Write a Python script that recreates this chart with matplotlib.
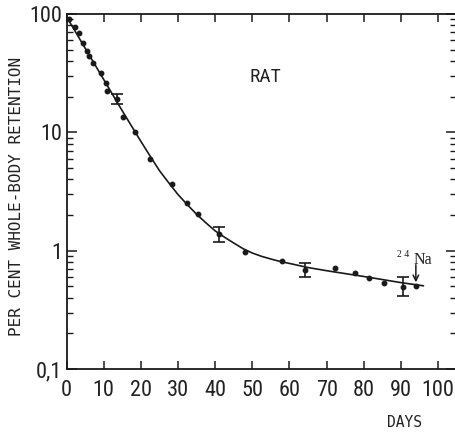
import numpy as np
import matplotlib
matplotlib.use("Agg")
import matplotlib.pyplot as plt
from matplotlib.ticker import FixedLocator, LogLocator, NullFormatter

# measured points (days, % retention)
pts_x = [0.6, 2.2, 3.4, 4.4, 5.4, 6.1, 7.1, 9.2, 10.5, 11.0, 15.3, 18.4,
         22.5, 28.3, 32.4, 35.3, 48.0, 57.9, 72.3, 77.5, 81.4, 85.3, 94.0]
pts_y = [90, 78, 69, 57, 49, 44, 38.6, 31.8, 26, 22.5, 13.5, 10.1,
         6.0, 3.63, 2.51, 2.04, 0.97, 0.81, 0.72, 0.645, 0.585, 0.537, 0.506]

# points with error bars
eb_x = [13.6, 41.1, 64.2, 90.5]
eb_y = [19.2, 1.38, 0.69, 0.49]
eb_lo = [17.3, 1.19, 0.60, 0.415]
eb_hi = [21.2, 1.59, 0.78, 0.596]

# fitted curve
curve_x = [0, 5, 10, 15, 17.5, 20, 22.5, 25, 27.5, 30, 32.5, 35, 37.5, 40,
           42.5, 45, 47.5, 50, 52.5, 55, 57.5, 60, 65, 70, 75, 80, 85, 90, 96]
curve_y = [95, 51.5, 28, 15.2, 11.3, 8.4, 6.3, 4.75, 3.75, 2.98, 2.45, 2.03,
           1.72, 1.47, 1.30, 1.16, 1.04, 0.955, 0.895, 0.85, 0.81, 0.78,
           0.72, 0.677, 0.64, 0.605, 0.57, 0.537, 0.505]

x_ticks = [0, 10, 20, 30, 40, 50, 60, 70, 80, 90, 100]
y_ticks = [0.1, 1, 10, 100]
y_ticklabels = ['0,1', '1', '10', '100']

narrow = ['Liberation Sans Narrow', 'Roboto Condensed', 'Liberation Sans', 'DejaVu Sans']

fig = plt.figure(figsize=(4.55, 4.33), dpi=100)
ax = fig.add_axes([66.5 / 455, 1 - 369 / 433, (456 - 66.5) / 455, (369 - 14) / 433])

ax.plot(curve_x, curve_y, color='#1a1a1a', lw=1.2, zorder=2)
ax.plot(pts_x, pts_y, 'o', color='#1a1a1a', ms=3.2, zorder=3)
yerr = [np.array(eb_y) - np.array(eb_lo), np.array(eb_hi) - np.array(eb_y)]
ax.errorbar(eb_x, eb_y, yerr=yerr, fmt='o', color='#1a1a1a', ms=3.2,
            elinewidth=1.2, capsize=4.2, capthick=1.2, zorder=3)

ax.set_yscale('log')
ax.set_xlim(0, 104.8)
ax.set_ylim(0.1, 100)

ax.xaxis.set_major_locator(FixedLocator(x_ticks))
ax.set_xticklabels([str(t) for t in x_ticks], family=narrow, fontsize=16)
ax.yaxis.set_major_locator(FixedLocator(y_ticks))
ax.set_yticklabels(y_ticklabels, family=narrow, fontsize=16)
ax.yaxis.set_minor_locator(LogLocator(base=10, subs=range(2, 10)))
ax.yaxis.set_minor_formatter(NullFormatter())

ax.tick_params(axis='both', which='major', direction='in', length=6, width=1.1,
               top=True, right=True, colors='#1a1a1a', labelcolor='#222222')
ax.tick_params(axis='y', which='major', length=7, pad=3)
ax.tick_params(axis='x', which='major', pad=8)
ax.tick_params(axis='y', which='minor', direction='in', length=4.5, width=1.0,
               left=True, right=True, colors='#1a1a1a')
for s in ax.spines.values():
    s.set_linewidth(1.3)
    s.set_color('#1a1a1a')

ax.text(53.4, 29.2, 'RAT', family=narrow, fontsize=14, ha='center', va='center',
        color='#222222')

ax.text(89.0, 0.92, '2 4', family='Liberation Serif', fontsize=7, ha='left',
        va='center', color='#222222')
ax.text(93.5, 0.835, 'Na', family='Liberation Serif', fontsize=11.5, ha='left',
        va='center', color='#222222')
ax.annotate('', xy=(94.0, 0.54), xytext=(94.0, 0.76),
            arrowprops=dict(arrowstyle='->', color='#1a1a1a', lw=1.1,
                            shrinkA=0, shrinkB=0))

fig.text(16.7 / 455, 1 - 196 / 433, 'PER CENT WHOLE-BODY RETENTION',
         family='DejaVu Sans Mono', fontsize=11.5, rotation=90,
         ha='center', va='center', color='#222222')
fig.text(404 / 455, 1 - 422.5 / 433, 'DAYS', family='DejaVu Sans Mono',
         fontsize=10.5, ha='center', va='center', color='#222222')

fig.savefig('out.png', dpi=100)
